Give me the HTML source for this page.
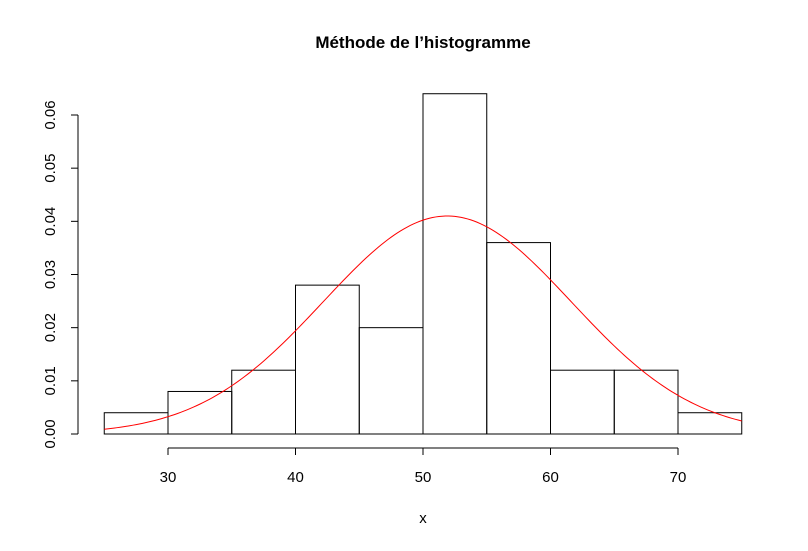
<!DOCTYPE html>
<html><head><meta charset="utf-8"><style>
body{margin:0;background:#fff}
svg text{font-family:"Liberation Sans",Arial,sans-serif}
</style></head><body>
<svg id="chart" width="808" height="546" xmlns="http://www.w3.org/2000/svg">
<rect width="808" height="546" fill="#fff"/>
<text x="423" y="48" text-anchor="middle" font-size="17" font-weight="bold">Méthode de l’histogramme</text>
<text x="423" y="523" text-anchor="middle" font-size="15">x</text>
<g id="bars"></g><g id="curve"></g><g id="xaxis"></g><g id="yaxis"></g>
</svg>
<script>
const binStarts=[25,30,35,40,45,50,55,60,65,70];
const densities=[0.004,0.008,0.012,0.028,0.020,0.064,0.036,0.012,0.012,0.004];
const xTicks=[30,40,50,60,70];
const yTicks=[0,0.01,0.02,0.03,0.04,0.05,0.06];
const yTickLabels=["0.00","0.01","0.02","0.03","0.04","0.05","0.06"];
const fitMean=[51.9];
const fitSd=[9.73];
const binWidth=5;
const NS="http://www.w3.org/2000/svg";
const X=v=>168+(v-30)*12.75;
const Y=v=>434-v*5316.7;
function mk(t,a,p){const e=document.createElementNS(NS,t);for(const k in a)e.setAttribute(k,a[k]);p.appendChild(e);return e;}
const bars=document.getElementById('bars');
binStarts.forEach((b,i)=>{
  const r=mk('rect',{x:X(b),y:Y(densities[i]),width:X(b+binWidth)-X(b),height:Y(0)-Y(densities[i]),fill:'none',stroke:'#000','stroke-width':1},bars);
  
  
});
let d='';
const x0=binStarts[0],x1=binStarts[binStarts.length-1]+binWidth;
for(let i=0;i<=200;i++){const x=x0+(x1-x0)*i/200;const y=Math.exp(-((x-fitMean[0])**2)/(2*fitSd[0]**2))/(fitSd[0]*Math.sqrt(2*Math.PI));d+=(i?'L':'M')+X(x).toFixed(2)+','+Y(y).toFixed(2);}
const c=mk('path',{d:d,fill:'none',stroke:'#ff0000','stroke-width':1},document.getElementById('curve'));


const xa=document.getElementById('xaxis');


mk('line',{x1:X(xTicks[0]),x2:X(xTicks[xTicks.length-1]),y1:448,y2:448,stroke:'#000'},xa);
xTicks.forEach(t=>{mk('line',{x1:X(t),x2:X(t),y1:448,y2:455,stroke:'#000'},xa);
  const tx=mk('text',{x:X(t),y:482,'text-anchor':'middle','font-size':15},xa);tx.textContent=t;
  
  });
const ya=document.getElementById('yaxis');


mk('line',{x1:78,x2:78,y1:Y(yTicks[0]),y2:Y(yTicks[yTicks.length-1]),stroke:'#000'},ya);
yTicks.forEach((t,i)=>{mk('line',{x1:71,x2:78,y1:Y(t),y2:Y(t),stroke:'#000'},ya);
  const tx=mk('text',{x:55,y:Y(t),'text-anchor':'middle','font-size':15,transform:`rotate(-90 55 ${Y(t)})`},ya);tx.textContent=yTickLabels[i];
  
  });
</script>
</body></html>
